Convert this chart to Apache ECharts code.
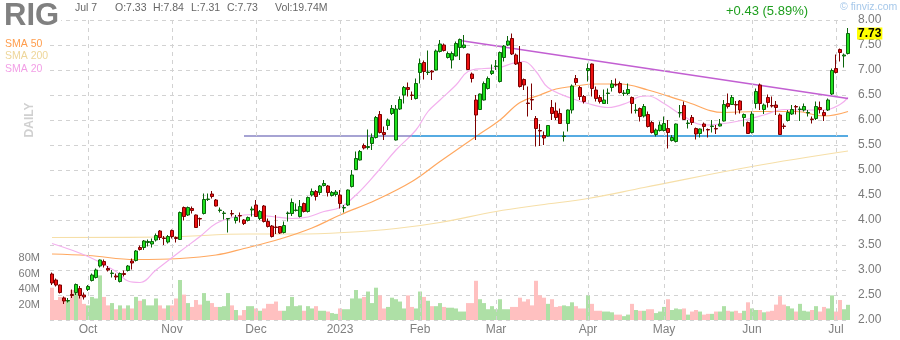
<!DOCTYPE html>
<html>
<head>
<meta charset="utf-8">
<script src="https://cdn.jsdelivr.net/npm/echarts@6/dist/echarts.min.js"></script>
<style>
  html, body { margin: 0; padding: 0; background: #fff; }
  #chart { width: 900px; height: 340px; }
</style>
</head>
<body>
<div id="chart"></div>
<script>
// ---- RIG daily candles, 2022-09-20 .. 2023-07-07 ----
const ticker = 'RIG';
const marketHolidays = ['2022-11-24', '2022-12-26', '2023-01-02', '2023-01-16', '2023-02-20',
  '2023-04-07', '2023-05-29', '2023-06-19', '2023-07-04'];

function buildSessions(fromISO, toISO) {
  const out = [];
  const d = new Date(fromISO + 'T00:00:00Z');
  const end = new Date(toISO + 'T00:00:00Z');
  while (d <= end) {
    const wd = d.getUTCDay();
    const iso = d.toISOString().slice(0, 10);
    if (wd !== 0 && wd !== 6 && !marketHolidays.includes(iso)) out.push(iso);
    d.setUTCDate(d.getUTCDate() + 1);
  }
  return out;
}
const sessions = buildSessions('2022-09-20', '2023-07-07');

const openPx = [
  2.92, 2.80, 2.70, 2.44, 2.38, 2.51, 2.55, 2.63, 2.50, 2.61,
  2.79, 2.85, 3.08, 3.17, 3.03, 2.93, 2.88, 2.77, 2.93, 2.99,
  3.18, 3.19, 3.45, 3.45, 3.55, 3.52, 3.60, 3.78, 3.64, 3.56,
  3.79, 3.65, 3.61, 4.25, 4.10, 4.23, 4.10, 4.03, 4.13, 4.41,
  4.52, 4.40, 4.19, 4.13, 4.02, 4.13, 3.99, 4.09, 4.00, 3.99,
  4.20, 4.30, 4.03, 4.28, 3.97, 3.88, 3.86, 3.87, 3.75, 4.13,
  4.13, 4.19, 4.07, 4.33, 4.17, 4.50, 4.57, 4.55, 4.69, 4.68,
  4.49, 4.51, 4.50, 4.24, 4.30, 4.67, 5.01, 5.20, 5.49, 5.45,
  5.53, 5.65, 6.11, 5.75, 5.89, 6.13, 5.60, 6.22, 6.50, 6.65,
  6.50, 6.43, 6.95, 7.15, 6.95, 6.98, 7.00, 7.37, 7.50, 7.25,
  7.20, 7.28, 7.45, 7.45, 7.32, 6.92, 6.40, 6.21, 6.40, 6.63,
  6.93, 7.07, 6.77, 7.25, 7.50, 7.63, 7.30, 7.15, 6.81, 6.34,
  6.41, 6.03, 5.79, 5.69, 5.68, 6.25, 6.18, 6.13, 5.67, 5.93,
  6.20, 6.83, 6.65, 6.47, 6.99, 7.12, 6.60, 6.45, 6.33, 6.53,
  6.65, 6.71, 6.73, 6.53, 6.53, 6.45, 6.19, 6.23, 6.08, 6.11,
  5.95, 5.71, 5.79, 5.79, 5.83, 5.59, 5.57, 6.14, 6.29, 5.93,
  6.05, 5.83, 5.73, 5.92, 5.81, 5.87, 5.83, 5.88, 5.98, 6.33,
  6.31, 6.31, 6.38, 6.05, 5.95, 5.75, 6.33, 6.70, 6.21, 6.45,
  6.29, 6.30, 6.10, 5.88, 5.99, 6.12, 6.27, 6.21, 6.20, 6.14,
  6.02, 6.03, 6.25, 6.15, 6.20, 6.52, 7.03, 7.41, 7.28, 7.33
];
const highPx = [
  2.95, 2.83, 2.71, 2.47, 2.44, 2.61, 2.73, 2.68, 2.55, 2.70,
  2.93, 3.03, 3.21, 3.21, 3.08, 3.00, 2.93, 2.95, 2.99, 3.10,
  3.23, 3.40, 3.49, 3.60, 3.61, 3.63, 3.73, 3.80, 3.68, 3.70,
  3.81, 3.67, 4.17, 4.27, 4.27, 4.27, 4.11, 4.05, 4.53, 4.53,
  4.58, 4.42, 4.25, 4.18, 4.03, 4.20, 4.10, 4.15, 4.02, 4.07,
  4.27, 4.40, 4.20, 4.30, 4.03, 3.90, 4.10, 3.88, 3.97, 4.17,
  4.43, 4.33, 4.40, 4.35, 4.47, 4.63, 4.60, 4.70, 4.80, 4.70,
  4.58, 4.60, 4.60, 4.30, 4.61, 5.00, 5.37, 5.40, 5.53, 5.81,
  5.73, 6.08, 6.18, 5.87, 6.03, 6.30, 6.30, 6.47, 6.68, 6.75,
  6.57, 6.83, 7.23, 7.19, 7.39, 7.00, 7.41, 7.60, 7.53, 7.37,
  7.37, 7.57, 7.63, 7.70, 7.33, 6.95, 6.50, 6.53, 6.77, 6.87,
  7.11, 7.20, 7.37, 7.50, 7.68, 7.73, 7.33, 7.48, 6.83, 6.67,
  6.73, 6.08, 5.92, 5.77, 5.90, 6.40, 6.35, 6.23, 5.77, 6.21,
  6.71, 6.90, 6.68, 6.50, 7.13, 7.13, 6.67, 6.50, 6.61, 6.63,
  6.80, 6.83, 6.77, 6.60, 6.73, 6.47, 6.32, 6.25, 6.32, 6.17,
  5.98, 5.83, 5.97, 6.07, 6.00, 5.70, 5.93, 6.30, 6.37, 6.00,
  6.10, 5.85, 5.83, 5.95, 5.83, 6.00, 5.90, 6.02, 6.40, 6.53,
  6.50, 6.38, 6.40, 6.13, 5.97, 6.17, 6.63, 6.73, 6.33, 6.51,
  6.47, 6.38, 6.13, 5.93, 6.20, 6.30, 6.30, 6.27, 6.33, 6.20,
  6.07, 6.37, 6.37, 6.20, 6.43, 7.03, 7.31, 7.43, 7.33, 7.84
];
const lowPx = [
  2.70, 2.67, 2.53, 2.32, 2.35, 2.44, 2.50, 2.43, 2.41, 2.58,
  2.77, 2.83, 3.05, 3.05, 2.97, 2.85, 2.80, 2.75, 2.87, 2.97,
  3.01, 3.17, 3.39, 3.40, 3.47, 3.45, 3.57, 3.60, 3.50, 3.53,
  3.63, 3.55, 3.60, 3.99, 4.08, 4.13, 3.85, 3.88, 4.11, 4.38,
  4.43, 4.27, 4.15, 4.01, 3.75, 4.07, 3.93, 3.95, 3.90, 3.97,
  4.07, 4.07, 4.00, 3.95, 3.85, 3.65, 3.72, 3.72, 3.73, 3.97,
  4.08, 4.17, 4.05, 4.15, 4.15, 4.47, 4.39, 4.50, 4.67, 4.47,
  4.47, 4.47, 4.23, 4.15, 4.28, 4.65, 5.00, 5.19, 5.41, 5.41,
  5.40, 5.63, 5.73, 5.60, 5.80, 6.10, 5.59, 6.20, 6.33, 6.47,
  6.40, 6.41, 6.73, 6.81, 6.90, 6.80, 6.99, 7.35, 7.37, 7.23,
  7.03, 7.27, 7.20, 7.43, 7.00, 6.75, 5.60, 6.20, 6.39, 6.61,
  6.90, 7.00, 6.75, 7.17, 7.48, 7.30, 7.10, 6.65, 6.60, 6.07,
  6.20, 5.47, 5.48, 5.50, 5.67, 6.00, 6.00, 5.92, 5.57, 5.77,
  6.13, 6.70, 6.40, 6.33, 6.77, 6.47, 6.37, 6.33, 6.32, 6.32,
  6.57, 6.67, 6.53, 6.48, 6.50, 6.13, 6.13, 5.97, 6.05, 5.85,
  5.73, 5.67, 5.77, 5.77, 5.43, 5.57, 5.55, 6.05, 6.00, 5.83,
  5.90, 5.61, 5.65, 5.77, 5.65, 5.75, 5.72, 5.87, 5.97, 6.23,
  6.30, 6.11, 6.13, 5.87, 5.72, 5.73, 6.23, 6.20, 6.12, 6.25,
  6.25, 6.10, 5.70, 5.82, 5.97, 6.10, 6.11, 5.98, 6.17, 6.07,
  5.93, 6.00, 6.13, 5.98, 6.18, 6.50, 6.93, 7.17, 7.05, 7.31
];
const closePx = [
  2.74, 2.70, 2.55, 2.38, 2.39, 2.49, 2.71, 2.49, 2.46, 2.67,
  2.90, 3.00, 3.20, 3.10, 3.00, 2.94, 2.86, 2.93, 2.91, 3.08,
  3.14, 3.38, 3.41, 3.58, 3.57, 3.57, 3.69, 3.65, 3.63, 3.67,
  3.67, 3.63, 4.15, 4.07, 4.25, 4.19, 3.85, 4.02, 4.41, 4.42,
  4.47, 4.28, 4.20, 4.14, 4.03, 4.12, 4.05, 4.08, 3.93, 4.05,
  4.22, 4.07, 4.17, 3.97, 3.87, 3.67, 3.85, 3.74, 3.89, 4.14,
  4.35, 4.20, 4.27, 4.17, 4.45, 4.57, 4.47, 4.68, 4.73, 4.55,
  4.55, 4.56, 4.33, 4.25, 4.60, 4.90, 5.23, 5.37, 5.44, 5.47,
  5.65, 6.05, 5.75, 5.71, 6.00, 6.23, 6.22, 6.41, 6.65, 6.61,
  6.49, 6.73, 7.13, 6.97, 6.96, 6.96, 7.38, 7.52, 7.39, 7.33,
  7.33, 7.53, 7.61, 7.50, 7.01, 6.83, 6.10, 6.52, 6.73, 6.83,
  6.98, 7.08, 7.35, 7.48, 7.58, 7.32, 7.12, 6.67, 6.70, 6.33,
  6.40, 5.83, 5.78, 5.64, 5.89, 6.13, 6.05, 5.93, 5.68, 6.20,
  6.68, 6.75, 6.47, 6.37, 7.03, 6.63, 6.43, 6.37, 6.40, 6.54,
  6.72, 6.70, 6.55, 6.54, 6.61, 6.33, 6.20, 6.07, 6.27, 5.87,
  5.75, 5.80, 5.90, 5.93, 5.75, 5.65, 5.92, 6.15, 6.01, 5.94,
  5.95, 5.72, 5.82, 5.87, 5.80, 5.88, 5.82, 5.92, 6.31, 6.27,
  6.45, 6.30, 6.20, 6.11, 5.73, 6.12, 6.57, 6.33, 6.30, 6.35,
  6.28, 6.25, 5.71, 5.87, 6.15, 6.21, 6.26, 6.22, 6.27, 6.15,
  6.01, 6.27, 6.21, 6.09, 6.40, 6.99, 6.95, 7.35, 7.30, 7.73
];
// shares traded, millions
const volumeM = [
  42, 26, 30, 30, 25, 39, 41, 32, 21, 19,
  30, 28, 58, 30, 19, 22, 14, 19, 15, 19,
  15, 30, 25, 27, 19, 19, 28, 19, 15, 19,
  19, 28, 52, 33, 22, 17, 26, 20, 35, 25,
  22, 17, 17, 18, 35, 19, 13, 6, 13, 18,
  18, 15, 12, 15, 21, 21, 24, 12, 12, 18,
  30, 18, 19, 12, 18, 15, 18, 12, 12, 11,
  9, 8, 15, 14, 14, 28, 39, 28, 30, 37,
  22, 42, 32, 15, 17, 29, 27, 24, 15, 32,
  17, 15, 37, 30, 25, 18, 18, 22, 17, 16,
  16, 15, 11, 11, 22, 22, 51, 27, 22, 14,
  18, 14, 27, 14, 14, 17, 17, 29, 24, 27,
  19, 51, 32, 29, 21, 27, 17, 18, 19, 18,
  23, 18, 15, 15, 32, 21, 12, 12, 11, 11,
  10, 7, 7, 5, 7, 21, 13, 12, 12, 14,
  14, 9, 11, 17, 27, 13, 15, 14, 15, 7,
  11, 13, 11, 7, 8, 8, 11, 11, 18, 12,
  11, 12, 9, 12, 23, 15, 13, 13, 10, 11,
  12, 20, 31, 20, 18, 15, 11, 21, 12, 11,
  13, 18, 11, 17, 15, 32, 11, 26, 14, 19.74
];

// moving averages: [session index, value]
const sma20 = [
  [0, 3.53], [9, 3.27], [16, 2.97], [19, 2.78], [22, 2.75], [26, 3.00], [32, 3.37], [37, 3.67],
  [41, 3.93], [46, 4.07], [50, 4.11], [55, 4.07], [60, 4.03], [64, 4.06], [68, 4.17], [72, 4.25],
  [76, 4.50], [81, 4.93], [86, 5.40], [91, 5.80], [94, 6.17], [97, 6.40], [101, 6.70], [104, 6.97],
  [108, 7.03], [112, 7.05], [115, 7.13], [118, 7.17], [121, 6.97], [124, 6.65], [130, 6.43],
  [134, 6.33], [139, 6.25], [144, 6.35], [147, 6.47], [149, 6.48], [153, 6.33], [158, 6.07],
  [163, 5.90], [168, 5.93], [173, 6.00], [178, 6.10], [183, 6.21], [188, 6.20], [193, 6.20],
  [197, 6.31], [199, 6.45]
];
const sma50 = [
  [0, 3.32], [9, 3.29], [21, 3.21], [32, 3.23], [41, 3.30], [48, 3.43], [57, 3.62], [65, 3.84],
  [72, 4.10], [81, 4.40], [90, 4.77], [97, 5.17], [106, 5.67], [112, 6.00], [117, 6.35],
  [122, 6.50], [126, 6.62], [130, 6.67], [136, 6.72], [142, 6.72], [149, 6.60], [158, 6.38],
  [168, 6.15], [176, 6.17], [186, 6.17], [193, 6.08], [199, 6.17]
];
const sma200 = [
  [0, 3.65], [28, 3.66], [49, 3.72], [61, 3.72], [73, 3.75], [86, 3.83], [97, 3.95], [111, 4.17],
  [122, 4.30], [134, 4.43], [148, 4.65], [175, 5.07], [199, 5.38]
];
// drawn studies: falling resistance from the February highs, flat support in two pieces
const resistanceLine = [[102, 7.59], [199, 6.43]];
const supportLineOld = [[48, 5.68], [90, 5.68]];
const supportLine = [[90, 5.68], [199, 5.68]];

const priceTicks = { min: 2, max: 8, step: 0.5 };
const volumeTickLabels = [20, 40, 60, 80];
const monthNames = ['Jan', 'Feb', 'Mar', 'Apr', 'May', 'Jun', 'Jul', 'Aug', 'Sep', 'Oct', 'Nov', 'Dec'];

// ---- derived series ----
const n = sessions.length;
const candles = sessions.map((_, i) => [openPx[i], closePx[i], lowPx[i], highPx[i]]);
const volumeBars = volumeM.map((v, i) => ({
  value: v,
  itemStyle: { color: closePx[i] >= openPx[i] ? '#aee0a6' : '#ffc0c0' }
}));
const monthStart = sessions.map((d, i) => i > 0 && d.slice(0, 7) !== sessions[i - 1].slice(0, 7));
function monthLabel(d) {
  const m = +d.slice(5, 7);
  return m === 1 ? d.slice(0, 4) : monthNames[m - 1];
}

const FONT = '"Liberation Sans", Arial, Helvetica, sans-serif';
const chart = echarts.init(document.getElementById('chart'), null, { renderer: 'canvas' });

const option = {
  animation: false,
  backgroundColor: '#ffffff',
  textStyle: { fontFamily: FONT },
  grid: { left: 50, right: 50, top: 20, bottom: 20 },
  xAxis: {
    type: 'category',
    data: sessions,
    boundaryGap: true,
    axisLine: { show: false },
    axisTick: { show: false },
    splitLine: { show: false },
    axisLabel: {
      interval: (i) => monthStart[i],
      formatter: (v) => monthLabel(v),
      color: '#808080',
      fontSize: 12,
      margin: 4,
      fontFamily: FONT
    }
  },
  yAxis: [
    {
      type: 'value',
      position: 'right',
      min: priceTicks.min,
      max: priceTicks.max,
      interval: priceTicks.step,
      axisLine: { show: false },
      axisTick: { show: false },
      axisLabel: {
        formatter: (v) => v.toFixed(2),
        color: '#7a7a7a',
        fontSize: 12,
        margin: 8,
        fontFamily: FONT
      },
      splitLine: { lineStyle: { color: '#d2d2d2', type: [4, 4], width: 1 } }
    },
    {
      type: 'value',
      position: 'left',
      min: 0,
      max: 390,
      interval: 20,
      axisLine: { show: false },
      axisTick: { show: false },
      splitLine: { show: false },
      axisLabel: {
        formatter: (v) => (volumeTickLabels.includes(v) ? v + 'M' : ''),
        color: '#7a7a7a',
        fontSize: 11,
        margin: 10,
        fontFamily: FONT
      }
    }
  ],
  series: [
    {
      name: 'Volume',
      type: 'bar',
      yAxisIndex: 1,
      data: volumeBars,
      barWidth: 4,
      barCategoryGap: '0%',
      silent: true,
      z: 1,
      markLine: {
        silent: true,
        symbol: 'none',
        label: { show: false },
        lineStyle: { color: '#d2d2d2', type: [4, 4], width: 1 },
        data: sessions.map((d, i) => i).filter((i) => monthStart[i]).map((i) => ({ xAxis: i }))
      }
    },
    {
      name: 'SMA 200', type: 'line', data: sma200, smooth: 0.4, symbol: 'none', z: 2,
      lineStyle: { color: '#f6dfa8', width: 1.2 }
    },
    {
      name: 'SMA 50', type: 'line', data: sma50, smooth: 0.4, symbol: 'none', z: 2,
      lineStyle: { color: '#ffa860', width: 1.2 }
    },
    {
      name: 'SMA 20', type: 'line', data: sma20, smooth: 0.4, symbol: 'none', z: 2,
      lineStyle: { color: '#f3b0ee', width: 1.2 }
    },
    {
      name: 'Support (early)', type: 'line', data: supportLineOld, symbol: 'none', z: 3,
      lineStyle: { color: '#8884c4', width: 1.3 }
    },
    {
      name: 'Support', type: 'line', data: supportLine, symbol: 'none', z: 3,
      lineStyle: { color: '#1e8fd8', width: 1.3 }
    },
    {
      name: 'Resistance', type: 'line', data: resistanceLine, symbol: 'none', z: 3,
      lineStyle: { color: '#c25fd2', width: 1.6 }
    },
    {
      name: ticker,
      type: 'candlestick',
      data: candles,
      barWidth: 3,
      z: 5,
      itemStyle: {
        color: '#1ee01e',
        color0: '#ee1010',
        borderColor: '#0b650b',
        borderColor0: '#7c0000',
        borderWidth: 1
      }
    }
  ]
};
chart.setOption(option);

// ---- header, legend and last-price tag ----
const last = n - 1;
const chg = closePx[last] - closePx[last - 1];
const chgPct = chg / closePx[last - 1] * 100;
const lastDate = new Date(sessions[last] + 'T00:00:00Z');
const dateText = monthNames[lastDate.getUTCMonth()] + ' ' + lastDate.getUTCDate();
const lastY = chart.convertToPixel({ yAxisIndex: 0 }, closePx[last]);

function txt(x, y, text, font, fill, extra) {
  return {
    type: 'text', x: x, y: y, z: 50,
    style: Object.assign({ text: text, font: font, fill: fill, align: 'left', verticalAlign: 'middle' }, extra || {})
  };
}
const small = '10.5px ' + FONT;
chart.setOption({
  graphic: [
    txt(4, 16, ticker, 'bold 31px ' + FONT, '#808080', { backgroundColor: '#fff', padding: [0, 2, 0, 0] }),
    txt(75, 8, dateText, small, '#666'),
    txt(115, 8, 'O:' + openPx[last].toFixed(2), small, '#666'),
    txt(153, 8, 'H:' + highPx[last].toFixed(2), small, '#666'),
    txt(191, 8, 'L:' + lowPx[last].toFixed(2), small, '#666'),
    txt(227, 8, 'C:' + closePx[last].toFixed(2), small, '#666'),
    txt(275, 8, 'Vol:' + volumeM[last].toFixed(2) + 'M', small, '#666'),
    txt(726, 11, (chg >= 0 ? '+' : '') + chg.toFixed(2) + ' (' + chgPct.toFixed(2) + '%)', '13px ' + FONT, '#1d9e1d'),
    txt(840, 7, '\u00a9 finviz.com', small, '#a6c8ea'),
    txt(5, 44, 'SMA 50', small, '#ff9d4d'),
    txt(5, 56, 'SMA 200', small, '#eed69a'),
    txt(5, 69, 'SMA 20', small, '#f29fe6'),
    {
      type: 'text', x: 30, y: 120, rotation: Math.PI / 2, z: 50,
      style: { text: 'DAILY', font: 'bold 12px ' + FONT, fill: '#d0d0d0', align: 'center', verticalAlign: 'middle' }
    },
    txt(857, lastY, closePx[last].toFixed(2), 'bold 12px ' + FONT, '#000',
      { backgroundColor: '#ffff00', padding: [0, 1, 0, 1] })
  ]
});
</script>
</body>
</html>
